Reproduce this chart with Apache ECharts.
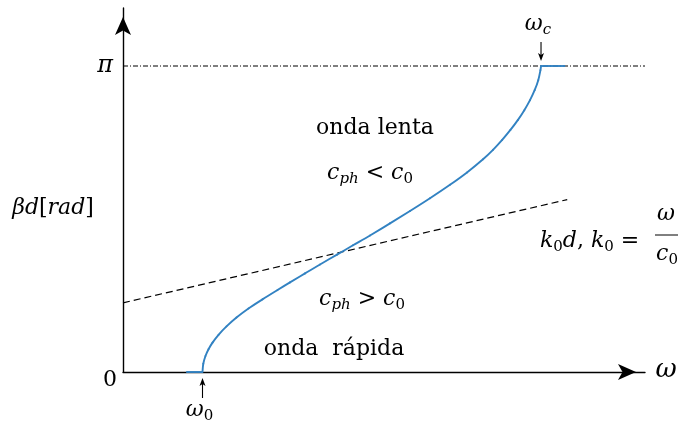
<!DOCTYPE html>
<html>
<head>
<meta charset="utf-8">
<script src="https://cdn.jsdelivr.net/npm/echarts@6/dist/echarts.min.js"></script>
<style>
  html, body { margin: 0; padding: 0; background: #fff; }
  #chart { width: 678px; height: 423px; }
</style>
</head>
<body>
<div id="chart"></div>
<script>
// Dispersion curve of a periodic slow-wave structure: phase shift per cell vs frequency
const curveOmega = [1.523, 1.538, 1.580, 1.638, 1.715, 1.830, 1.983, 2.174, 2.404, 2.672, 2.960,
                    3.199, 3.487, 3.774, 4.100, 4.406, 4.732, 5.115, 5.498, 5.881, 6.264, 6.590,
                    6.897, 7.088, 7.264, 7.422, 7.563, 7.688, 7.797, 7.886, 7.955, 7.997, 8.008];
const curveBeta  = [0, 0.085, 0.164, 0.234, 0.302, 0.382, 0.468, 0.559, 0.652, 0.746, 0.842,
                    0.920, 1.012, 1.104, 1.205, 1.301, 1.402, 1.526, 1.653, 1.784, 1.922, 2.049,
                    2.184, 2.281, 2.383, 2.485, 2.586, 2.688, 2.791, 2.893, 2.996, 3.099, 3.1416];

// Flat parts below cut-on and above cut-off
const stopLowOmega  = [1.21, 1.523];
const stopLowBeta   = [0, 0];
const stopHighOmega = [8.008, 8.47];
const stopHighBeta  = [3.1416, 3.1416];

// Light line k0 d
const lightOmega = [0, 8.51];
const lightBeta  = [0.71, 1.77];

// Upper bound beta d = pi
const piOmega = [0, 10];
const piBeta  = [3.1416, 3.1416];

// Band edges
const edgeOmega  = [1.523, 8.008];
const edgeBeta   = [0, 3.1416];
const edgeLabels = ['0', 'c'];

// Y tick labels
const yTickValues = [0, 3.1416];
const yTickLabels = ['0', 'π'];

const SERIF = '"DejaVu Serif", "Liberation Serif", serif';
const BLUE = '#3282c2';

const zip = (a, b) => a.map((v, i) => [v, b[i]]);

const mathRich = {
  i:  { fontFamily: SERIF, fontStyle: 'italic', fontSize: 22, lineHeight: 28, verticalAlign: 'middle', color: '#000' },
  r:  { fontFamily: SERIF, fontSize: 22, lineHeight: 28, verticalAlign: 'middle', color: '#000' },
  s:  { fontFamily: SERIF, fontStyle: 'italic', fontSize: 15, lineHeight: 15, verticalAlign: 'bottom', color: '#000' },
  s0: { fontFamily: SERIF, fontSize: 15, lineHeight: 15, verticalAlign: 'bottom', color: '#000' },
  w:  { fontFamily: SERIF, fontStyle: 'italic', fontSize: 26, lineHeight: 28, verticalAlign: 'middle', color: '#000' }
};

const chart = echarts.init(document.getElementById('chart'), null, { renderer: 'canvas' });

function label(text, x, y, align) {
  return {
    type: 'text', x: x, y: y, silent: true,
    style: { text: text, rich: mathRich, align: align || 'center', verticalAlign: 'middle', fill: '#000',
             font: '22px ' + SERIF }
  };
}

const axisLineStyle = {
  show: true, symbol: ['none', 'arrow'], symbolSize: [12, 18], symbolOffset: [0, -9],
  lineStyle: { color: '#000', width: 1.4 }
};

// Catmull-Rom segment from point i to i+1 of the dispersion curve, in pixel space
function curveSegment(params, api) {
  const i = params.dataIndex;
  const n = curveOmega.length;
  if (i >= n - 1) return null;
  const P = k => {
    const j = Math.max(0, Math.min(n - 1, k));
    return api.coord([curveOmega[j], curveBeta[j]]);
  };
  const p0 = P(i - 1), p1 = P(i), p2 = P(i + 1), p3 = P(i + 2);
  return {
    type: 'bezierCurve',
    shape: {
      x1: p1[0], y1: p1[1], x2: p2[0], y2: p2[1],
      cpx1: p1[0] + (p2[0] - p0[0]) / 6, cpy1: p1[1] + (p2[1] - p0[1]) / 6,
      cpx2: p2[0] - (p3[0] - p1[0]) / 6, cpy2: p2[1] - (p3[1] - p1[1]) / 6
    },
    style: { stroke: BLUE, lineWidth: 1.9, fill: null, lineCap: 'round' }
  };
}

chart.setOption({
  backgroundColor: '#fff',
  animation: false,
  grid: { left: 123, right: 33, top: 8, bottom: 51 },
  xAxis: {
    type: 'value', min: 0, max: 10,
    axisLine: axisLineStyle,
    axisTick: { show: false }, axisLabel: { show: false }, splitLine: { show: false }
  },
  yAxis: {
    type: 'value', min: 0, max: 3.7371,
    axisLine: axisLineStyle,
    axisTick: { show: false },
    splitLine: { show: false },
    axisLabel: {
      show: true, customValues: yTickValues, margin: 6,
      formatter: v => {
        const t = yTickLabels[yTickValues.indexOf(v)];
        return t === 'π' ? '{p|' + t + '}' : '{z|' + t + '}';
      },
      rich: {
        p: { fontFamily: SERIF, fontStyle: 'italic', fontSize: 24, color: '#000', padding: [0, 4, 0, 0] },
        z: { fontFamily: SERIF, fontSize: 22, color: '#000', padding: [16, 0, 0, 0] }
      }
    }
  },
  series: [
    {
      type: 'line', data: zip(piOmega, piBeta), symbol: 'none', silent: true,
      lineStyle: { color: '#000', width: 1.2, type: [5, 2, 1, 2] }
    },
    {
      type: 'line', data: zip(lightOmega, lightBeta), symbol: 'none', silent: true,
      lineStyle: { color: '#000', width: 1.2, type: [7, 4] }
    },
    {
      type: 'custom', coordinateSystem: 'cartesian2d', clip: false, silent: true, z: 5,
      data: zip(curveOmega, curveBeta),
      renderItem: curveSegment
    },
    {
      type: 'line', data: zip(stopLowOmega, stopLowBeta), symbol: 'none', silent: true, z: 5,
      lineStyle: { color: BLUE, width: 1.9 }
    },
    {
      type: 'line', data: zip(stopHighOmega, stopHighBeta), symbol: 'none', silent: true, z: 5,
      lineStyle: { color: BLUE, width: 1.9 }
    },
    {
      // arrows pointing at the band edges, with their labels
      type: 'custom', coordinateSystem: 'cartesian2d', clip: false, silent: true, z: 6,
      data: zip(edgeOmega, edgeBeta).map((p, i) => [p[0], p[1], i]),
      renderItem: (params, api) => {
        const p = api.coord([api.value(0), api.value(1)]);
        const idx = api.value(2);
        const down = api.value(1) > 0;
        const s = down ? -1 : 1;
        const tipY = p[1] + s * (down ? 5 : 6);
        const tailY = p[1] + s * (down ? 24 : 26);
        const x = p[0];
        return {
          type: 'group',
          children: [
            { type: 'line', shape: { x1: x, y1: tailY, x2: x, y2: tipY + s * 4 },
              style: { stroke: '#000', lineWidth: 1.1 } },
            { type: 'polygon',
              shape: { points: [[x, tipY], [x - 3, tipY + s * 8], [x, tipY + s * 6], [x + 3, tipY + s * 8]] },
              style: { fill: '#000' } },
            { type: 'text', x: x - 3, y: p[1] + s * (down ? 42 : 38),
              style: { text: '{i|ω}{' + (down ? 's' : 's0') + '|' + edgeLabels[idx] + '}', rich: mathRich,
                       align: 'center', verticalAlign: 'middle', fill: '#000' } }
          ]
        };
      }
    }
  ],
  graphic: [
    label('{i|βd}{r|[}{i|rad}{r|]}', 53, 208),
    label('{w|ω}', 666, 370),
    label('{r|onda lenta}', 375, 128),
    label('{i|c}{s|ph}{r| < }{i|c}{s0|0}', 370, 173),
    label('{i|c}{s|ph}{r| > }{i|c}{s0|0}', 362, 299),
    label('{r|onda  rápida}', 334, 349),
    label('{i|k}{s0|0}{i|d}{r|, }{i|k}{s0|0}{r| = }', 540, 241, 'left'),
    label('{i|ω}', 666, 214),
    { type: 'line', silent: true, shape: { x1: 655, y1: 235, x2: 678, y2: 235 }, style: { stroke: '#000', lineWidth: 1 } },
    label('{i|c}{s0|0}', 667, 254)
  ]
});
</script>
</body>
</html>
